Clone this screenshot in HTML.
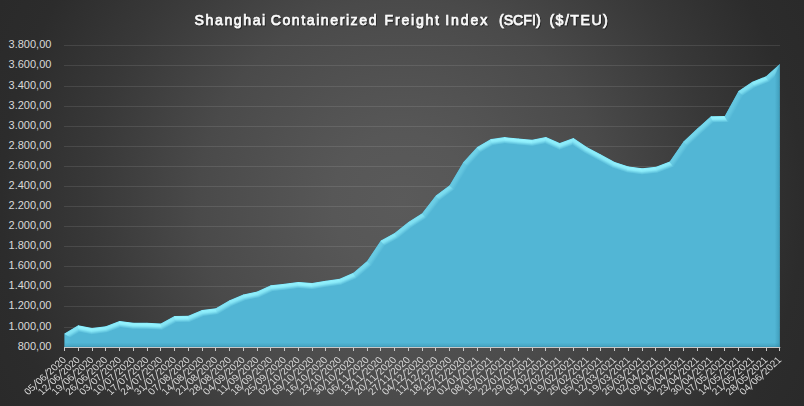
<!DOCTYPE html>
<html><head><meta charset="utf-8"><style>
html,body{margin:0;padding:0;}
body{width:804px;height:406px;overflow:hidden;position:relative;background:#2a2a2a;
font-family:"Liberation Sans", sans-serif;}
.bg{position:absolute;left:0;top:0;width:804px;height:406px;
background:radial-gradient(circle farthest-corner at 50% 50%, #5a5a5a 0%, #575757 15.5%, #525252 27%, #4a4a4a 45%, #383838 69.5%, #2c2c2c 89%, #2a2a2a 100%);}
svg{position:absolute;left:0;top:0;}
.t text{font-weight:normal;stroke:#fafafa;stroke-width:0.7px;fill:#fafafa;font-size:15px;}
.yl text{font-size:11px;fill:#d9d9d9;text-anchor:end;}
.xl text{font-size:9.4px;fill:#d9d9d9;}
.xl line{stroke:#d0d0d0;stroke-width:0.85;}
</style></head><body>
<div class="bg"></div>
<svg width="804" height="406" viewBox="0 0 804 406">
<defs>
<filter id="tsh" x="-5%" y="-30%" width="110%" height="160%"><feDropShadow dx="0.8" dy="1" stdDeviation="0.7" flood-color="#000" flood-opacity="0.55"/></filter>
<clipPath id="ac"><path d="M64.5,347.5 L64.5,333.6 78.26,325.3 92.01,328 105.77,326.2 119.52,320.9 133.28,322.7 147.03,322.85 160.79,323.5 174.55,316 188.3,315.8 202.06,310 215.81,308.2 229.57,300.2 243.32,294.4 257.08,291.5 270.84,285.2 284.59,283.7 298.35,281.9 312.1,283 325.86,280.7 339.62,278.7 353.37,272.8 367.13,261 380.88,240.5 394.64,233 408.39,222 422.15,213.2 435.91,195.5 449.66,185.2 463.42,162.1 477.17,147.1 490.93,139.1 504.68,137.1 518.44,138.5 532.2,139.7 545.95,136.9 559.71,143.1 573.46,138 587.22,147.2 600.98,154.5 614.73,161.9 628.49,166.4 642.24,168.2 656,166.7 669.75,161.5 683.51,141.4 697.27,128.6 711.02,116.2 724.78,116 738.53,91 752.29,81.8 766.04,76.3 779.8,64 L779.8,347.5 Z"/></clipPath>
<linearGradient id="rsh" x1="0" y1="0" x2="1" y2="0"><stop offset="0" stop-color="#2a7f9c" stop-opacity="0"/><stop offset="1" stop-color="#2a7f9c" stop-opacity="0.45"/></linearGradient>
<linearGradient id="bsh" x1="0" y1="0" x2="0" y2="1"><stop offset="0" stop-color="#2a7f9c" stop-opacity="0"/><stop offset="0.7" stop-color="#2a7f9c" stop-opacity="0.28"/><stop offset="1" stop-color="#1f6f8a" stop-opacity="0.6"/></linearGradient>
<linearGradient id="g0" gradientUnits="userSpaceOnUse" x1="64.5" y1="347.5" x2="71" y2="347.5"><stop offset="0" stop-color="#57bad8"/><stop offset="0.25" stop-color="#57bbd8"/><stop offset="0.5" stop-color="#57bad8"/><stop offset="1" stop-color="#52b6d5"/></linearGradient><linearGradient id="g1" gradientUnits="userSpaceOnUse" x1="64.5" y1="333.6" x2="67.86" y2="339.17"><stop offset="0" stop-color="#7fdff1"/><stop offset="0.25" stop-color="#84e4f4"/><stop offset="0.5" stop-color="#7cddf0"/><stop offset="1" stop-color="#52b6d5"/></linearGradient><linearGradient id="g2" gradientUnits="userSpaceOnUse" x1="78.26" y1="325.3" x2="77" y2="331.68"><stop offset="0" stop-color="#8cecfa"/><stop offset="0.25" stop-color="#93f2fe"/><stop offset="0.5" stop-color="#89e9f8"/><stop offset="1" stop-color="#52b6d5"/></linearGradient><linearGradient id="g3" gradientUnits="userSpaceOnUse" x1="92.01" y1="328" x2="92.85" y2="334.45"><stop offset="0" stop-color="#8beaf8"/><stop offset="0.25" stop-color="#91f0fc"/><stop offset="0.5" stop-color="#87e7f6"/><stop offset="1" stop-color="#52b6d5"/></linearGradient><linearGradient id="g4" gradientUnits="userSpaceOnUse" x1="105.77" y1="326.2" x2="108.1" y2="332.27"><stop offset="0" stop-color="#86e7f6"/><stop offset="0.25" stop-color="#8cecfa"/><stop offset="0.5" stop-color="#84e4f4"/><stop offset="1" stop-color="#52b6d5"/></linearGradient><linearGradient id="g5" gradientUnits="userSpaceOnUse" x1="119.52" y1="320.9" x2="118.68" y2="327.35"><stop offset="0" stop-color="#8eedfa"/><stop offset="0.25" stop-color="#94f3fe"/><stop offset="0.5" stop-color="#8aeaf8"/><stop offset="1" stop-color="#52b6d5"/></linearGradient><linearGradient id="g6" gradientUnits="userSpaceOnUse" x1="133.28" y1="322.7" x2="133.21" y2="329.2"><stop offset="0" stop-color="#8dedfa"/><stop offset="0.25" stop-color="#94f3fe"/><stop offset="0.5" stop-color="#8aeaf8"/><stop offset="1" stop-color="#52b6d5"/></linearGradient><linearGradient id="g7" gradientUnits="userSpaceOnUse" x1="147.03" y1="322.85" x2="146.73" y2="329.34"><stop offset="0" stop-color="#8eedfa"/><stop offset="0.25" stop-color="#94f3ff"/><stop offset="0.5" stop-color="#8aeaf8"/><stop offset="1" stop-color="#52b6d5"/></linearGradient><linearGradient id="g8" gradientUnits="userSpaceOnUse" x1="160.79" y1="323.5" x2="163.9" y2="329.21"><stop offset="0" stop-color="#81e2f3"/><stop offset="0.25" stop-color="#87e7f6"/><stop offset="0.5" stop-color="#7fdff1"/><stop offset="1" stop-color="#52b6d5"/></linearGradient><linearGradient id="g9" gradientUnits="userSpaceOnUse" x1="174.55" y1="316" x2="174.64" y2="322.5"><stop offset="0" stop-color="#8decfa"/><stop offset="0.25" stop-color="#93f2fe"/><stop offset="0.5" stop-color="#89e9f8"/><stop offset="1" stop-color="#52b6d5"/></linearGradient><linearGradient id="g10" gradientUnits="userSpaceOnUse" x1="188.3" y1="315.8" x2="190.83" y2="321.79"><stop offset="0" stop-color="#86e6f6"/><stop offset="0.25" stop-color="#8cebf9"/><stop offset="0.5" stop-color="#83e3f4"/><stop offset="1" stop-color="#52b6d5"/></linearGradient><linearGradient id="g11" gradientUnits="userSpaceOnUse" x1="202.06" y1="310" x2="202.9" y2="316.45"><stop offset="0" stop-color="#8beaf8"/><stop offset="0.25" stop-color="#91f0fc"/><stop offset="0.5" stop-color="#87e7f6"/><stop offset="1" stop-color="#52b6d5"/></linearGradient><linearGradient id="g12" gradientUnits="userSpaceOnUse" x1="215.81" y1="308.2" x2="219.08" y2="313.82"><stop offset="0" stop-color="#80e0f2"/><stop offset="0.25" stop-color="#85e5f5"/><stop offset="0.5" stop-color="#7ddef0"/><stop offset="1" stop-color="#52b6d5"/></linearGradient><linearGradient id="g13" gradientUnits="userSpaceOnUse" x1="229.57" y1="300.2" x2="232.09" y2="306.19"><stop offset="0" stop-color="#86e6f6"/><stop offset="0.25" stop-color="#8cebf9"/><stop offset="0.5" stop-color="#83e3f4"/><stop offset="1" stop-color="#52b6d5"/></linearGradient><linearGradient id="g14" gradientUnits="userSpaceOnUse" x1="243.32" y1="294.4" x2="244.67" y2="300.76"><stop offset="0" stop-color="#89e9f8"/><stop offset="0.25" stop-color="#8feffb"/><stop offset="0.5" stop-color="#86e6f6"/><stop offset="1" stop-color="#52b6d5"/></linearGradient><linearGradient id="g15" gradientUnits="userSpaceOnUse" x1="257.08" y1="291.5" x2="259.79" y2="297.41"><stop offset="0" stop-color="#85e6f5"/><stop offset="0.25" stop-color="#8bebf9"/><stop offset="0.5" stop-color="#83e3f3"/><stop offset="1" stop-color="#52b6d5"/></linearGradient><linearGradient id="g16" gradientUnits="userSpaceOnUse" x1="270.84" y1="285.2" x2="271.54" y2="291.66"><stop offset="0" stop-color="#8bebf9"/><stop offset="0.25" stop-color="#91f1fd"/><stop offset="0.5" stop-color="#88e8f7"/><stop offset="1" stop-color="#52b6d5"/></linearGradient><linearGradient id="g17" gradientUnits="userSpaceOnUse" x1="284.59" y1="283.7" x2="285.44" y2="290.15"><stop offset="0" stop-color="#8beaf8"/><stop offset="0.25" stop-color="#91f0fc"/><stop offset="0.5" stop-color="#87e7f6"/><stop offset="1" stop-color="#52b6d5"/></linearGradient><linearGradient id="g18" gradientUnits="userSpaceOnUse" x1="298.35" y1="281.9" x2="297.83" y2="288.38"><stop offset="0" stop-color="#8eeefb"/><stop offset="0.25" stop-color="#95f4ff"/><stop offset="0.5" stop-color="#8bebf9"/><stop offset="1" stop-color="#52b6d5"/></linearGradient><linearGradient id="g19" gradientUnits="userSpaceOnUse" x1="312.1" y1="283" x2="313.18" y2="289.41"><stop offset="0" stop-color="#8aeaf8"/><stop offset="0.25" stop-color="#90f0fc"/><stop offset="0.5" stop-color="#87e7f6"/><stop offset="1" stop-color="#52b6d5"/></linearGradient><linearGradient id="g20" gradientUnits="userSpaceOnUse" x1="325.86" y1="280.7" x2="326.79" y2="287.13"><stop offset="0" stop-color="#8aeaf8"/><stop offset="0.25" stop-color="#91f0fc"/><stop offset="0.5" stop-color="#87e7f6"/><stop offset="1" stop-color="#52b6d5"/></linearGradient><linearGradient id="g21" gradientUnits="userSpaceOnUse" x1="339.62" y1="278.7" x2="342.18" y2="284.67"><stop offset="0" stop-color="#86e6f5"/><stop offset="0.25" stop-color="#8cebf9"/><stop offset="0.5" stop-color="#83e3f4"/><stop offset="1" stop-color="#52b6d5"/></linearGradient><linearGradient id="g22" gradientUnits="userSpaceOnUse" x1="353.37" y1="272.8" x2="357.6" y2="277.73"><stop offset="0" stop-color="#75d6eb"/><stop offset="0.25" stop-color="#79daed"/><stop offset="0.5" stop-color="#73d4ea"/><stop offset="1" stop-color="#52b6d5"/></linearGradient><linearGradient id="g23" gradientUnits="userSpaceOnUse" x1="367.13" y1="261" x2="372.52" y2="264.62"><stop offset="0" stop-color="#66c9e2"/><stop offset="0.25" stop-color="#69cbe3"/><stop offset="0.5" stop-color="#65c8e1"/><stop offset="1" stop-color="#52b6d5"/></linearGradient><linearGradient id="g24" gradientUnits="userSpaceOnUse" x1="380.88" y1="240.5" x2="383.99" y2="246.21"><stop offset="0" stop-color="#81e2f3"/><stop offset="0.25" stop-color="#87e7f6"/><stop offset="0.5" stop-color="#7fdff1"/><stop offset="1" stop-color="#52b6d5"/></linearGradient><linearGradient id="g25" gradientUnits="userSpaceOnUse" x1="394.64" y1="233" x2="398.7" y2="238.08"><stop offset="0" stop-color="#77d8ec"/><stop offset="0.25" stop-color="#7bdcef"/><stop offset="0.5" stop-color="#75d6eb"/><stop offset="1" stop-color="#52b6d5"/></linearGradient><linearGradient id="g26" gradientUnits="userSpaceOnUse" x1="408.39" y1="222" x2="411.9" y2="227.48"><stop offset="0" stop-color="#7ddef0"/><stop offset="0.25" stop-color="#82e2f3"/><stop offset="0.5" stop-color="#7bdcef"/><stop offset="1" stop-color="#52b6d5"/></linearGradient><linearGradient id="g27" gradientUnits="userSpaceOnUse" x1="422.15" y1="213.2" x2="427.28" y2="217.19"><stop offset="0" stop-color="#6acce4"/><stop offset="0.25" stop-color="#6ccfe6"/><stop offset="0.5" stop-color="#69cbe3"/><stop offset="1" stop-color="#52b6d5"/></linearGradient><linearGradient id="g28" gradientUnits="userSpaceOnUse" x1="435.91" y1="195.5" x2="439.8" y2="200.7"><stop offset="0" stop-color="#79daed"/><stop offset="0.25" stop-color="#7ddef0"/><stop offset="0.5" stop-color="#77d8ec"/><stop offset="1" stop-color="#52b6d5"/></linearGradient><linearGradient id="g29" gradientUnits="userSpaceOnUse" x1="449.66" y1="185.2" x2="455.25" y2="188.53"><stop offset="0" stop-color="#64c6e0"/><stop offset="0.25" stop-color="#66c8e1"/><stop offset="0.5" stop-color="#63c5df"/><stop offset="1" stop-color="#52b6d5"/></linearGradient><linearGradient id="g30" gradientUnits="userSpaceOnUse" x1="463.42" y1="162.1" x2="468.21" y2="166.49"><stop offset="0" stop-color="#6ed0e7"/><stop offset="0.25" stop-color="#71d3e8"/><stop offset="0.5" stop-color="#6ccee6"/><stop offset="1" stop-color="#52b6d5"/></linearGradient><linearGradient id="g31" gradientUnits="userSpaceOnUse" x1="477.17" y1="147.1" x2="480.44" y2="152.72"><stop offset="0" stop-color="#80e0f2"/><stop offset="0.25" stop-color="#85e5f5"/><stop offset="0.5" stop-color="#7ddef0"/><stop offset="1" stop-color="#52b6d5"/></linearGradient><linearGradient id="g32" gradientUnits="userSpaceOnUse" x1="490.93" y1="139.1" x2="491.86" y2="145.53"><stop offset="0" stop-color="#8aeaf8"/><stop offset="0.25" stop-color="#91f0fc"/><stop offset="0.5" stop-color="#87e7f6"/><stop offset="1" stop-color="#52b6d5"/></linearGradient><linearGradient id="g33" gradientUnits="userSpaceOnUse" x1="504.68" y1="137.1" x2="504.03" y2="143.57"><stop offset="0" stop-color="#8eeefb"/><stop offset="0.25" stop-color="#95f4ff"/><stop offset="0.5" stop-color="#8beaf9"/><stop offset="1" stop-color="#52b6d5"/></linearGradient><linearGradient id="g34" gradientUnits="userSpaceOnUse" x1="518.44" y1="138.5" x2="517.88" y2="144.98"><stop offset="0" stop-color="#8eeefb"/><stop offset="0.25" stop-color="#95f4ff"/><stop offset="0.5" stop-color="#8bebf9"/><stop offset="1" stop-color="#52b6d5"/></linearGradient><linearGradient id="g35" gradientUnits="userSpaceOnUse" x1="532.2" y1="139.7" x2="533.49" y2="146.07"><stop offset="0" stop-color="#89e9f8"/><stop offset="0.25" stop-color="#8feffc"/><stop offset="0.5" stop-color="#86e6f6"/><stop offset="1" stop-color="#52b6d5"/></linearGradient><linearGradient id="g36" gradientUnits="userSpaceOnUse" x1="545.95" y1="136.9" x2="543.28" y2="142.83"><stop offset="0" stop-color="#88e8f7"/><stop offset="0.25" stop-color="#8feefb"/><stop offset="0.5" stop-color="#85e6f5"/><stop offset="1" stop-color="#52b6d5"/></linearGradient><linearGradient id="g37" gradientUnits="userSpaceOnUse" x1="559.71" y1="143.1" x2="561.97" y2="149.19"><stop offset="0" stop-color="#87e7f6"/><stop offset="0.25" stop-color="#8decfa"/><stop offset="0.5" stop-color="#84e4f4"/><stop offset="1" stop-color="#52b6d5"/></linearGradient><linearGradient id="g38" gradientUnits="userSpaceOnUse" x1="573.46" y1="138" x2="569.85" y2="143.4"><stop offset="0" stop-color="#86e6f5"/><stop offset="0.25" stop-color="#8bebf9"/><stop offset="0.5" stop-color="#83e3f4"/><stop offset="1" stop-color="#52b6d5"/></linearGradient><linearGradient id="g39" gradientUnits="userSpaceOnUse" x1="587.22" y1="147.2" x2="584.17" y2="152.94"><stop offset="0" stop-color="#87e7f6"/><stop offset="0.25" stop-color="#8dedfa"/><stop offset="0.5" stop-color="#84e5f5"/><stop offset="1" stop-color="#52b6d5"/></linearGradient><linearGradient id="g40" gradientUnits="userSpaceOnUse" x1="600.98" y1="154.5" x2="597.9" y2="160.22"><stop offset="0" stop-color="#87e7f6"/><stop offset="0.25" stop-color="#8dedfa"/><stop offset="0.5" stop-color="#84e5f5"/><stop offset="1" stop-color="#52b6d5"/></linearGradient><linearGradient id="g41" gradientUnits="userSpaceOnUse" x1="614.73" y1="161.9" x2="612.71" y2="168.08"><stop offset="0" stop-color="#8aeaf8"/><stop offset="0.25" stop-color="#91f0fc"/><stop offset="0.5" stop-color="#87e7f6"/><stop offset="1" stop-color="#52b6d5"/></linearGradient><linearGradient id="g42" gradientUnits="userSpaceOnUse" x1="628.49" y1="166.4" x2="627.64" y2="172.85"><stop offset="0" stop-color="#8eedfa"/><stop offset="0.25" stop-color="#94f3fe"/><stop offset="0.5" stop-color="#8aeaf8"/><stop offset="1" stop-color="#52b6d5"/></linearGradient><linearGradient id="g43" gradientUnits="userSpaceOnUse" x1="642.24" y1="168.2" x2="642.95" y2="174.66"><stop offset="0" stop-color="#8bebf9"/><stop offset="0.25" stop-color="#91f1fd"/><stop offset="0.5" stop-color="#88e8f7"/><stop offset="1" stop-color="#52b6d5"/></linearGradient><linearGradient id="g44" gradientUnits="userSpaceOnUse" x1="656" y1="166.7" x2="658.3" y2="172.78"><stop offset="0" stop-color="#87e7f6"/><stop offset="0.25" stop-color="#8cecfa"/><stop offset="0.5" stop-color="#84e4f4"/><stop offset="1" stop-color="#52b6d5"/></linearGradient><linearGradient id="g45" gradientUnits="userSpaceOnUse" x1="669.75" y1="161.5" x2="675.12" y2="165.17"><stop offset="0" stop-color="#67c9e2"/><stop offset="0.25" stop-color="#69cbe3"/><stop offset="0.5" stop-color="#66c8e1"/><stop offset="1" stop-color="#52b6d5"/></linearGradient><linearGradient id="g46" gradientUnits="userSpaceOnUse" x1="683.51" y1="141.4" x2="687.94" y2="146.16"><stop offset="0" stop-color="#72d4e9"/><stop offset="0.25" stop-color="#76d7ec"/><stop offset="0.5" stop-color="#71d2e8"/><stop offset="1" stop-color="#52b6d5"/></linearGradient><linearGradient id="g47" gradientUnits="userSpaceOnUse" x1="697.27" y1="128.6" x2="701.62" y2="133.43"><stop offset="0" stop-color="#73d5ea"/><stop offset="0.25" stop-color="#77d8ec"/><stop offset="0.5" stop-color="#71d3e9"/><stop offset="1" stop-color="#52b6d5"/></linearGradient><linearGradient id="g48" gradientUnits="userSpaceOnUse" x1="711.02" y1="116.2" x2="711.12" y2="122.7"><stop offset="0" stop-color="#8decfa"/><stop offset="0.25" stop-color="#93f2fe"/><stop offset="0.5" stop-color="#89e9f8"/><stop offset="1" stop-color="#52b6d5"/></linearGradient><linearGradient id="g49" gradientUnits="userSpaceOnUse" x1="724.78" y1="116" x2="730.47" y2="119.13"><stop offset="0" stop-color="#62c5df"/><stop offset="0.25" stop-color="#64c7e0"/><stop offset="0.5" stop-color="#61c4df"/><stop offset="1" stop-color="#52b6d5"/></linearGradient><linearGradient id="g50" gradientUnits="userSpaceOnUse" x1="738.53" y1="91" x2="742.15" y2="96.4"><stop offset="0" stop-color="#7cddef"/><stop offset="0.25" stop-color="#81e1f2"/><stop offset="0.5" stop-color="#7adbee"/><stop offset="1" stop-color="#52b6d5"/></linearGradient><linearGradient id="g51" gradientUnits="userSpaceOnUse" x1="752.29" y1="81.8" x2="754.7" y2="87.84"><stop offset="0" stop-color="#86e6f6"/><stop offset="0.25" stop-color="#8cecf9"/><stop offset="0.5" stop-color="#83e4f4"/><stop offset="1" stop-color="#52b6d5"/></linearGradient><linearGradient id="g52" gradientUnits="userSpaceOnUse" x1="766.04" y1="76.3" x2="770.38" y2="81.15"><stop offset="0" stop-color="#74d5ea"/><stop offset="0.25" stop-color="#77d8ec"/><stop offset="0.5" stop-color="#72d3e9"/><stop offset="1" stop-color="#52b6d5"/></linearGradient>
</defs>
<g stroke="rgba(255,255,255,0.1)" stroke-width="1"><line x1="64" y1="45.5" x2="780" y2="45.5"/><line x1="64" y1="65.5" x2="780" y2="65.5"/><line x1="64" y1="86.5" x2="780" y2="86.5"/><line x1="64" y1="106.5" x2="780" y2="106.5"/><line x1="64" y1="126.5" x2="780" y2="126.5"/><line x1="64" y1="146.5" x2="780" y2="146.5"/><line x1="64" y1="166.5" x2="780" y2="166.5"/><line x1="64" y1="186.5" x2="780" y2="186.5"/><line x1="64" y1="206.5" x2="780" y2="206.5"/><line x1="64" y1="226.5" x2="780" y2="226.5"/><line x1="64" y1="246.5" x2="780" y2="246.5"/><line x1="64" y1="266.5" x2="780" y2="266.5"/><line x1="64" y1="286.5" x2="780" y2="286.5"/><line x1="64" y1="306.5" x2="780" y2="306.5"/><line x1="64" y1="327.5" x2="780" y2="327.5"/></g>
<path d="M64.5,347.5 L64.5,333.6 78.26,325.3 92.01,328 105.77,326.2 119.52,320.9 133.28,322.7 147.03,322.85 160.79,323.5 174.55,316 188.3,315.8 202.06,310 215.81,308.2 229.57,300.2 243.32,294.4 257.08,291.5 270.84,285.2 284.59,283.7 298.35,281.9 312.1,283 325.86,280.7 339.62,278.7 353.37,272.8 367.13,261 380.88,240.5 394.64,233 408.39,222 422.15,213.2 435.91,195.5 449.66,185.2 463.42,162.1 477.17,147.1 490.93,139.1 504.68,137.1 518.44,138.5 532.2,139.7 545.95,136.9 559.71,143.1 573.46,138 587.22,147.2 600.98,154.5 614.73,161.9 628.49,166.4 642.24,168.2 656,166.7 669.75,161.5 683.51,141.4 697.27,128.6 711.02,116.2 724.78,116 738.53,91 752.29,81.8 766.04,76.3 779.8,64 L779.8,347.5 Z" fill="#52b6d5"/>
<g clip-path="url(#ac)">
<path d="M64.5,348 L64.5,333.1 L71,336.77 L71,348Z" fill="url(#g0)"/><path d="M64.07,333.86 L78.68,325.04 L79.89,331.9 L70.57,337.53Z" fill="url(#g1)"/><path d="M77.77,325.2 L92.5,328.1 L92.29,334.68 L78.98,332.07Z" fill="url(#g2)"/><path d="M91.52,328.06 L106.26,326.14 L107.88,332.48 L91.31,334.65Z" fill="url(#g3)"/><path d="M105.3,326.38 L119.99,320.72 L120.78,327.38 L106.91,332.72Z" fill="url(#g4)"/><path d="M119.03,320.84 L133.77,322.76 L133.32,329.26 L119.82,327.49Z" fill="url(#g5)"/><path d="M132.78,322.69 L147.53,322.86 L147.35,329.35 L132.32,329.19Z" fill="url(#g6)"/><path d="M146.54,322.83 L161.29,323.52 L162.8,330.1 L146.35,329.32Z" fill="url(#g7)"/><path d="M160.35,323.74 L174.99,315.76 L176.69,322.24 L161.86,330.32Z" fill="url(#g8)"/><path d="M174.05,316.01 L188.8,315.79 L190.16,322.27 L175.75,322.48Z" fill="url(#g9)"/><path d="M187.84,315.99 L202.52,309.81 L204.23,316.14 L189.2,322.48Z" fill="url(#g10)"/><path d="M201.56,310.06 L216.31,308.14 L218.45,314.41 L203.28,316.4Z" fill="url(#g11)"/><path d="M215.38,308.45 L230,299.95 L232.91,305.78 L217.52,314.73Z" fill="url(#g12)"/><path d="M229.11,300.39 L243.79,294.21 L245.74,300.44 L232.02,306.22Z" fill="url(#g13)"/><path d="M242.84,294.5 L257.57,291.4 L259.62,297.61 L244.79,300.73Z" fill="url(#g14)"/><path d="M256.63,291.71 L271.29,284.99 L273.04,291.34 L258.67,297.92Z" fill="url(#g15)"/><path d="M270.34,285.25 L285.09,283.65 L285.86,290.1 L272.09,291.6Z" fill="url(#g16)"/><path d="M284.1,283.76 L298.84,281.84 L299.01,288.37 L284.87,290.22Z" fill="url(#g17)"/><path d="M297.85,281.86 L312.6,283.04 L312.88,289.58 L298.01,288.39Z" fill="url(#g18)"/><path d="M311.61,283.08 L326.35,280.62 L327.36,287.04 L311.89,289.63Z" fill="url(#g19)"/><path d="M325.36,280.77 L340.11,278.63 L341.89,284.94 L326.37,287.19Z" fill="url(#g20)"/><path d="M339.16,278.9 L353.83,272.6 L357.31,278.18 L340.93,285.21Z" fill="url(#g21)"/><path d="M352.99,273.13 L367.51,260.67 L372.41,265.03 L356.47,278.71Z" fill="url(#g22)"/><path d="M366.85,261.42 L381.16,240.08 L385.67,245.03 L371.75,265.77Z" fill="url(#g23)"/><path d="M380.44,240.74 L395.08,232.76 L398.69,238.19 L384.95,245.68Z" fill="url(#g24)"/><path d="M394.25,233.31 L408.78,221.69 L412.58,226.98 L397.86,238.75Z" fill="url(#g25)"/><path d="M407.97,222.27 L422.57,212.93 L427.02,217.8 L411.76,227.56Z" fill="url(#g26)"/><path d="M421.84,213.59 L436.21,195.11 L440.81,199.78 L426.29,218.47Z" fill="url(#g27)"/><path d="M435.51,195.8 L450.06,184.9 L454.99,189.33 L440.1,200.48Z" fill="url(#g28)"/><path d="M449.41,185.63 L463.67,161.67 L468.92,165.57 L454.33,190.06Z" fill="url(#g29)"/><path d="M463.08,162.47 L477.51,146.73 L481.63,151.85 L468.32,166.37Z" fill="url(#g30)"/><path d="M476.74,147.35 L491.36,138.85 L493.54,145.1 L480.86,152.47Z" fill="url(#g31)"/><path d="M490.43,139.17 L505.18,137.03 L505.32,143.58 L492.61,145.42Z" fill="url(#g32)"/><path d="M504.19,137.05 L518.94,138.55 L518.33,145.02 L504.33,143.6Z" fill="url(#g33)"/><path d="M517.94,138.46 L532.69,139.74 L533.07,146.3 L517.33,144.93Z" fill="url(#g34)"/><path d="M531.71,139.8 L546.44,136.8 L545.68,143.59 L532.08,146.36Z" fill="url(#g35)"/><path d="M545.5,136.69 L560.16,143.31 L559.92,150.33 L544.74,143.48Z" fill="url(#g36)"/><path d="M559.24,143.27 L573.93,137.83 L573.08,145.08 L559,150.3Z" fill="url(#g37)"/><path d="M573.05,137.72 L587.63,147.48 L584.3,153.06 L572.19,144.97Z" fill="url(#g38)"/><path d="M586.78,146.97 L601.42,154.73 L598.35,160.47 L583.44,152.55Z" fill="url(#g39)"/><path d="M600.53,154.26 L615.17,162.14 L612.6,168.13 L597.47,160Z" fill="url(#g40)"/><path d="M614.26,161.74 L628.96,166.56 L627.52,172.92 L611.69,167.74Z" fill="url(#g41)"/><path d="M627.99,166.34 L642.74,168.26 L642.67,174.81 L626.55,172.7Z" fill="url(#g42)"/><path d="M641.75,168.25 L656.5,166.65 L658.02,173.02 L641.67,174.8Z" fill="url(#g43)"/><path d="M655.53,166.88 L670.22,161.32 L674.43,166.68 L657.06,173.25Z" fill="url(#g44)"/><path d="M669.47,161.91 L683.79,140.99 L688.75,145.25 L673.68,167.27Z" fill="url(#g45)"/><path d="M683.14,141.74 L697.63,128.26 L702.02,133.05 L688.1,146.01Z" fill="url(#g46)"/><path d="M696.89,128.93 L711.39,115.87 L713.93,122.33 L701.28,133.73Z" fill="url(#g47)"/><path d="M710.52,116.21 L725.28,115.99 L729.15,122.44 L713.06,122.67Z" fill="url(#g48)"/><path d="M724.54,116.44 L738.77,90.56 L743.7,95.08 L728.41,122.88Z" fill="url(#g49)"/><path d="M738.12,91.28 L752.7,81.52 L755.75,87.3 L743.05,95.8Z" fill="url(#g50)"/><path d="M751.82,81.99 L766.51,76.11 L769.99,81.72 L754.87,87.77Z" fill="url(#g51)"/><path d="M765.67,76.63 L780.17,63.67 L773.67,78.2 L769.15,82.24Z" fill="url(#g52)"/>
<rect x="774.8" y="40" width="5" height="307.5" fill="url(#rsh)"/>
<rect x="64.5" y="342.5" width="715.3" height="5" fill="url(#bsh)"/>
</g>
<g stroke="#c8c8c8" stroke-width="1"><line x1="64.5" y1="347.5" x2="64.5" y2="351"/><line x1="78.5" y1="347.5" x2="78.5" y2="351"/><line x1="92.5" y1="347.5" x2="92.5" y2="351"/><line x1="105.5" y1="347.5" x2="105.5" y2="351"/><line x1="119.5" y1="347.5" x2="119.5" y2="351"/><line x1="133.5" y1="347.5" x2="133.5" y2="351"/><line x1="147.5" y1="347.5" x2="147.5" y2="351"/><line x1="160.5" y1="347.5" x2="160.5" y2="351"/><line x1="174.5" y1="347.5" x2="174.5" y2="351"/><line x1="188.5" y1="347.5" x2="188.5" y2="351"/><line x1="202.5" y1="347.5" x2="202.5" y2="351"/><line x1="215.5" y1="347.5" x2="215.5" y2="351"/><line x1="229.5" y1="347.5" x2="229.5" y2="351"/><line x1="243.5" y1="347.5" x2="243.5" y2="351"/><line x1="257.5" y1="347.5" x2="257.5" y2="351"/><line x1="270.5" y1="347.5" x2="270.5" y2="351"/><line x1="284.5" y1="347.5" x2="284.5" y2="351"/><line x1="298.5" y1="347.5" x2="298.5" y2="351"/><line x1="312.5" y1="347.5" x2="312.5" y2="351"/><line x1="325.5" y1="347.5" x2="325.5" y2="351"/><line x1="339.5" y1="347.5" x2="339.5" y2="351"/><line x1="353.5" y1="347.5" x2="353.5" y2="351"/><line x1="367.5" y1="347.5" x2="367.5" y2="351"/><line x1="380.5" y1="347.5" x2="380.5" y2="351"/><line x1="394.5" y1="347.5" x2="394.5" y2="351"/><line x1="408.5" y1="347.5" x2="408.5" y2="351"/><line x1="422.5" y1="347.5" x2="422.5" y2="351"/><line x1="435.5" y1="347.5" x2="435.5" y2="351"/><line x1="449.5" y1="347.5" x2="449.5" y2="351"/><line x1="463.5" y1="347.5" x2="463.5" y2="351"/><line x1="477.5" y1="347.5" x2="477.5" y2="351"/><line x1="490.5" y1="347.5" x2="490.5" y2="351"/><line x1="504.5" y1="347.5" x2="504.5" y2="351"/><line x1="518.5" y1="347.5" x2="518.5" y2="351"/><line x1="532.5" y1="347.5" x2="532.5" y2="351"/><line x1="545.5" y1="347.5" x2="545.5" y2="351"/><line x1="559.5" y1="347.5" x2="559.5" y2="351"/><line x1="573.5" y1="347.5" x2="573.5" y2="351"/><line x1="587.5" y1="347.5" x2="587.5" y2="351"/><line x1="600.5" y1="347.5" x2="600.5" y2="351"/><line x1="614.5" y1="347.5" x2="614.5" y2="351"/><line x1="628.5" y1="347.5" x2="628.5" y2="351"/><line x1="642.5" y1="347.5" x2="642.5" y2="351"/><line x1="655.5" y1="347.5" x2="655.5" y2="351"/><line x1="669.5" y1="347.5" x2="669.5" y2="351"/><line x1="683.5" y1="347.5" x2="683.5" y2="351"/><line x1="697.5" y1="347.5" x2="697.5" y2="351"/><line x1="711.5" y1="347.5" x2="711.5" y2="351"/><line x1="724.5" y1="347.5" x2="724.5" y2="351"/><line x1="738.5" y1="347.5" x2="738.5" y2="351"/><line x1="752.5" y1="347.5" x2="752.5" y2="351"/><line x1="766.5" y1="347.5" x2="766.5" y2="351"/><line x1="779.5" y1="347.5" x2="779.5" y2="351"/><line x1="64" y1="347.5" x2="780.3" y2="347.5"/></g>
<g class="yl"><text x="51.4" y="48.4">3.800,00</text><text x="51.4" y="68.4">3.600,00</text><text x="51.4" y="89.4">3.400,00</text><text x="51.4" y="109.4">3.200,00</text><text x="51.4" y="129.4">3.000,00</text><text x="51.4" y="149.4">2.800,00</text><text x="51.4" y="169.4">2.600,00</text><text x="51.4" y="189.4">2.400,00</text><text x="51.4" y="209.4">2.200,00</text><text x="51.4" y="229.4">2.000,00</text><text x="51.4" y="249.4">1.800,00</text><text x="51.4" y="269.4">1.600,00</text><text x="51.4" y="289.4">1.400,00</text><text x="51.4" y="309.4">1.200,00</text><text x="51.4" y="330.4">1.000,00</text><text x="51.4" y="350.4">800,00</text></g>
</svg><svg class="xls" width="804" height="406" viewBox="0 0 804 406" style="will-change:transform"><g class="xl"><g transform="translate(66.75,360.55) scale(1.1,1) rotate(-45)"><text x="-20.75 -15.55 -10.35 -5.15">2020</text><text x="-35.1 -29.9">06</text><text x="-49.45 -44.25">05</text><line x1="-25.45" y1="1.3" x2="-20.05" y2="-7.2"/><line x1="-39.8" y1="1.3" x2="-34.4" y2="-7.2"/></g><g transform="translate(80.51,360.55) scale(1.1,1) rotate(-45)"><text x="-20.75 -15.55 -10.35 -5.15">2020</text><text x="-35.1 -29.9">06</text><text x="-49.45 -44.25">12</text><line x1="-25.45" y1="1.3" x2="-20.05" y2="-7.2"/><line x1="-39.8" y1="1.3" x2="-34.4" y2="-7.2"/></g><g transform="translate(94.26,360.55) scale(1.1,1) rotate(-45)"><text x="-20.75 -15.55 -10.35 -5.15">2020</text><text x="-35.1 -29.9">06</text><text x="-49.45 -44.25">19</text><line x1="-25.45" y1="1.3" x2="-20.05" y2="-7.2"/><line x1="-39.8" y1="1.3" x2="-34.4" y2="-7.2"/></g><g transform="translate(108.02,360.55) scale(1.1,1) rotate(-45)"><text x="-20.75 -15.55 -10.35 -5.15">2020</text><text x="-35.1 -29.9">06</text><text x="-49.45 -44.25">26</text><line x1="-25.45" y1="1.3" x2="-20.05" y2="-7.2"/><line x1="-39.8" y1="1.3" x2="-34.4" y2="-7.2"/></g><g transform="translate(121.77,360.55) scale(1.1,1) rotate(-45)"><text x="-20.75 -15.55 -10.35 -5.15">2020</text><text x="-35.1 -29.9">07</text><text x="-49.45 -44.25">03</text><line x1="-25.45" y1="1.3" x2="-20.05" y2="-7.2"/><line x1="-39.8" y1="1.3" x2="-34.4" y2="-7.2"/></g><g transform="translate(135.53,360.55) scale(1.1,1) rotate(-45)"><text x="-20.75 -15.55 -10.35 -5.15">2020</text><text x="-35.1 -29.9">07</text><text x="-49.45 -44.25">10</text><line x1="-25.45" y1="1.3" x2="-20.05" y2="-7.2"/><line x1="-39.8" y1="1.3" x2="-34.4" y2="-7.2"/></g><g transform="translate(149.28,360.55) scale(1.1,1) rotate(-45)"><text x="-20.75 -15.55 -10.35 -5.15">2020</text><text x="-35.1 -29.9">07</text><text x="-49.45 -44.25">17</text><line x1="-25.45" y1="1.3" x2="-20.05" y2="-7.2"/><line x1="-39.8" y1="1.3" x2="-34.4" y2="-7.2"/></g><g transform="translate(163.04,360.55) scale(1.1,1) rotate(-45)"><text x="-20.75 -15.55 -10.35 -5.15">2020</text><text x="-35.1 -29.9">07</text><text x="-49.45 -44.25">24</text><line x1="-25.45" y1="1.3" x2="-20.05" y2="-7.2"/><line x1="-39.8" y1="1.3" x2="-34.4" y2="-7.2"/></g><g transform="translate(176.8,360.55) scale(1.1,1) rotate(-45)"><text x="-20.75 -15.55 -10.35 -5.15">2020</text><text x="-35.1 -29.9">07</text><text x="-49.45 -44.25">31</text><line x1="-25.45" y1="1.3" x2="-20.05" y2="-7.2"/><line x1="-39.8" y1="1.3" x2="-34.4" y2="-7.2"/></g><g transform="translate(190.55,360.55) scale(1.1,1) rotate(-45)"><text x="-20.75 -15.55 -10.35 -5.15">2020</text><text x="-35.1 -29.9">08</text><text x="-49.45 -44.25">07</text><line x1="-25.45" y1="1.3" x2="-20.05" y2="-7.2"/><line x1="-39.8" y1="1.3" x2="-34.4" y2="-7.2"/></g><g transform="translate(204.31,360.55) scale(1.1,1) rotate(-45)"><text x="-20.75 -15.55 -10.35 -5.15">2020</text><text x="-35.1 -29.9">08</text><text x="-49.45 -44.25">14</text><line x1="-25.45" y1="1.3" x2="-20.05" y2="-7.2"/><line x1="-39.8" y1="1.3" x2="-34.4" y2="-7.2"/></g><g transform="translate(218.06,360.55) scale(1.1,1) rotate(-45)"><text x="-20.75 -15.55 -10.35 -5.15">2020</text><text x="-35.1 -29.9">08</text><text x="-49.45 -44.25">21</text><line x1="-25.45" y1="1.3" x2="-20.05" y2="-7.2"/><line x1="-39.8" y1="1.3" x2="-34.4" y2="-7.2"/></g><g transform="translate(231.82,360.55) scale(1.1,1) rotate(-45)"><text x="-20.75 -15.55 -10.35 -5.15">2020</text><text x="-35.1 -29.9">08</text><text x="-49.45 -44.25">28</text><line x1="-25.45" y1="1.3" x2="-20.05" y2="-7.2"/><line x1="-39.8" y1="1.3" x2="-34.4" y2="-7.2"/></g><g transform="translate(245.57,360.55) scale(1.1,1) rotate(-45)"><text x="-20.75 -15.55 -10.35 -5.15">2020</text><text x="-35.1 -29.9">09</text><text x="-49.45 -44.25">04</text><line x1="-25.45" y1="1.3" x2="-20.05" y2="-7.2"/><line x1="-39.8" y1="1.3" x2="-34.4" y2="-7.2"/></g><g transform="translate(259.33,360.55) scale(1.1,1) rotate(-45)"><text x="-20.75 -15.55 -10.35 -5.15">2020</text><text x="-35.1 -29.9">09</text><text x="-49.45 -44.25">11</text><line x1="-25.45" y1="1.3" x2="-20.05" y2="-7.2"/><line x1="-39.8" y1="1.3" x2="-34.4" y2="-7.2"/></g><g transform="translate(273.09,360.55) scale(1.1,1) rotate(-45)"><text x="-20.75 -15.55 -10.35 -5.15">2020</text><text x="-35.1 -29.9">09</text><text x="-49.45 -44.25">18</text><line x1="-25.45" y1="1.3" x2="-20.05" y2="-7.2"/><line x1="-39.8" y1="1.3" x2="-34.4" y2="-7.2"/></g><g transform="translate(286.84,360.55) scale(1.1,1) rotate(-45)"><text x="-20.75 -15.55 -10.35 -5.15">2020</text><text x="-35.1 -29.9">09</text><text x="-49.45 -44.25">25</text><line x1="-25.45" y1="1.3" x2="-20.05" y2="-7.2"/><line x1="-39.8" y1="1.3" x2="-34.4" y2="-7.2"/></g><g transform="translate(300.6,360.55) scale(1.1,1) rotate(-45)"><text x="-20.75 -15.55 -10.35 -5.15">2020</text><text x="-35.1 -29.9">10</text><text x="-49.45 -44.25">02</text><line x1="-25.45" y1="1.3" x2="-20.05" y2="-7.2"/><line x1="-39.8" y1="1.3" x2="-34.4" y2="-7.2"/></g><g transform="translate(314.35,360.55) scale(1.1,1) rotate(-45)"><text x="-20.75 -15.55 -10.35 -5.15">2020</text><text x="-35.1 -29.9">10</text><text x="-49.45 -44.25">09</text><line x1="-25.45" y1="1.3" x2="-20.05" y2="-7.2"/><line x1="-39.8" y1="1.3" x2="-34.4" y2="-7.2"/></g><g transform="translate(328.11,360.55) scale(1.1,1) rotate(-45)"><text x="-20.75 -15.55 -10.35 -5.15">2020</text><text x="-35.1 -29.9">10</text><text x="-49.45 -44.25">16</text><line x1="-25.45" y1="1.3" x2="-20.05" y2="-7.2"/><line x1="-39.8" y1="1.3" x2="-34.4" y2="-7.2"/></g><g transform="translate(341.87,360.55) scale(1.1,1) rotate(-45)"><text x="-20.75 -15.55 -10.35 -5.15">2020</text><text x="-35.1 -29.9">10</text><text x="-49.45 -44.25">23</text><line x1="-25.45" y1="1.3" x2="-20.05" y2="-7.2"/><line x1="-39.8" y1="1.3" x2="-34.4" y2="-7.2"/></g><g transform="translate(355.62,360.55) scale(1.1,1) rotate(-45)"><text x="-20.75 -15.55 -10.35 -5.15">2020</text><text x="-35.1 -29.9">10</text><text x="-49.45 -44.25">30</text><line x1="-25.45" y1="1.3" x2="-20.05" y2="-7.2"/><line x1="-39.8" y1="1.3" x2="-34.4" y2="-7.2"/></g><g transform="translate(369.38,360.55) scale(1.1,1) rotate(-45)"><text x="-20.75 -15.55 -10.35 -5.15">2020</text><text x="-35.1 -29.9">11</text><text x="-49.45 -44.25">06</text><line x1="-25.45" y1="1.3" x2="-20.05" y2="-7.2"/><line x1="-39.8" y1="1.3" x2="-34.4" y2="-7.2"/></g><g transform="translate(383.13,360.55) scale(1.1,1) rotate(-45)"><text x="-20.75 -15.55 -10.35 -5.15">2020</text><text x="-35.1 -29.9">11</text><text x="-49.45 -44.25">13</text><line x1="-25.45" y1="1.3" x2="-20.05" y2="-7.2"/><line x1="-39.8" y1="1.3" x2="-34.4" y2="-7.2"/></g><g transform="translate(396.89,360.55) scale(1.1,1) rotate(-45)"><text x="-20.75 -15.55 -10.35 -5.15">2020</text><text x="-35.1 -29.9">11</text><text x="-49.45 -44.25">20</text><line x1="-25.45" y1="1.3" x2="-20.05" y2="-7.2"/><line x1="-39.8" y1="1.3" x2="-34.4" y2="-7.2"/></g><g transform="translate(410.64,360.55) scale(1.1,1) rotate(-45)"><text x="-20.75 -15.55 -10.35 -5.15">2020</text><text x="-35.1 -29.9">11</text><text x="-49.45 -44.25">27</text><line x1="-25.45" y1="1.3" x2="-20.05" y2="-7.2"/><line x1="-39.8" y1="1.3" x2="-34.4" y2="-7.2"/></g><g transform="translate(424.4,360.55) scale(1.1,1) rotate(-45)"><text x="-20.75 -15.55 -10.35 -5.15">2020</text><text x="-35.1 -29.9">12</text><text x="-49.45 -44.25">04</text><line x1="-25.45" y1="1.3" x2="-20.05" y2="-7.2"/><line x1="-39.8" y1="1.3" x2="-34.4" y2="-7.2"/></g><g transform="translate(438.16,360.55) scale(1.1,1) rotate(-45)"><text x="-20.75 -15.55 -10.35 -5.15">2020</text><text x="-35.1 -29.9">12</text><text x="-49.45 -44.25">11</text><line x1="-25.45" y1="1.3" x2="-20.05" y2="-7.2"/><line x1="-39.8" y1="1.3" x2="-34.4" y2="-7.2"/></g><g transform="translate(451.91,360.55) scale(1.1,1) rotate(-45)"><text x="-20.75 -15.55 -10.35 -5.15">2020</text><text x="-35.1 -29.9">12</text><text x="-49.45 -44.25">18</text><line x1="-25.45" y1="1.3" x2="-20.05" y2="-7.2"/><line x1="-39.8" y1="1.3" x2="-34.4" y2="-7.2"/></g><g transform="translate(465.67,360.55) scale(1.1,1) rotate(-45)"><text x="-20.75 -15.55 -10.35 -5.15">2020</text><text x="-35.1 -29.9">12</text><text x="-49.45 -44.25">25</text><line x1="-25.45" y1="1.3" x2="-20.05" y2="-7.2"/><line x1="-39.8" y1="1.3" x2="-34.4" y2="-7.2"/></g><g transform="translate(479.42,360.55) scale(1.1,1) rotate(-45)"><text x="-20.75 -15.55 -10.35 -5.15">2021</text><text x="-35.1 -29.9">01</text><text x="-49.45 -44.25">01</text><line x1="-25.45" y1="1.3" x2="-20.05" y2="-7.2"/><line x1="-39.8" y1="1.3" x2="-34.4" y2="-7.2"/></g><g transform="translate(493.18,360.55) scale(1.1,1) rotate(-45)"><text x="-20.75 -15.55 -10.35 -5.15">2021</text><text x="-35.1 -29.9">01</text><text x="-49.45 -44.25">08</text><line x1="-25.45" y1="1.3" x2="-20.05" y2="-7.2"/><line x1="-39.8" y1="1.3" x2="-34.4" y2="-7.2"/></g><g transform="translate(506.93,360.55) scale(1.1,1) rotate(-45)"><text x="-20.75 -15.55 -10.35 -5.15">2021</text><text x="-35.1 -29.9">01</text><text x="-49.45 -44.25">15</text><line x1="-25.45" y1="1.3" x2="-20.05" y2="-7.2"/><line x1="-39.8" y1="1.3" x2="-34.4" y2="-7.2"/></g><g transform="translate(520.69,360.55) scale(1.1,1) rotate(-45)"><text x="-20.75 -15.55 -10.35 -5.15">2021</text><text x="-35.1 -29.9">01</text><text x="-49.45 -44.25">22</text><line x1="-25.45" y1="1.3" x2="-20.05" y2="-7.2"/><line x1="-39.8" y1="1.3" x2="-34.4" y2="-7.2"/></g><g transform="translate(534.45,360.55) scale(1.1,1) rotate(-45)"><text x="-20.75 -15.55 -10.35 -5.15">2021</text><text x="-35.1 -29.9">01</text><text x="-49.45 -44.25">29</text><line x1="-25.45" y1="1.3" x2="-20.05" y2="-7.2"/><line x1="-39.8" y1="1.3" x2="-34.4" y2="-7.2"/></g><g transform="translate(548.2,360.55) scale(1.1,1) rotate(-45)"><text x="-20.75 -15.55 -10.35 -5.15">2021</text><text x="-35.1 -29.9">02</text><text x="-49.45 -44.25">05</text><line x1="-25.45" y1="1.3" x2="-20.05" y2="-7.2"/><line x1="-39.8" y1="1.3" x2="-34.4" y2="-7.2"/></g><g transform="translate(561.96,360.55) scale(1.1,1) rotate(-45)"><text x="-20.75 -15.55 -10.35 -5.15">2021</text><text x="-35.1 -29.9">02</text><text x="-49.45 -44.25">12</text><line x1="-25.45" y1="1.3" x2="-20.05" y2="-7.2"/><line x1="-39.8" y1="1.3" x2="-34.4" y2="-7.2"/></g><g transform="translate(575.71,360.55) scale(1.1,1) rotate(-45)"><text x="-20.75 -15.55 -10.35 -5.15">2021</text><text x="-35.1 -29.9">02</text><text x="-49.45 -44.25">19</text><line x1="-25.45" y1="1.3" x2="-20.05" y2="-7.2"/><line x1="-39.8" y1="1.3" x2="-34.4" y2="-7.2"/></g><g transform="translate(589.47,360.55) scale(1.1,1) rotate(-45)"><text x="-20.75 -15.55 -10.35 -5.15">2021</text><text x="-35.1 -29.9">02</text><text x="-49.45 -44.25">26</text><line x1="-25.45" y1="1.3" x2="-20.05" y2="-7.2"/><line x1="-39.8" y1="1.3" x2="-34.4" y2="-7.2"/></g><g transform="translate(603.23,360.55) scale(1.1,1) rotate(-45)"><text x="-20.75 -15.55 -10.35 -5.15">2021</text><text x="-35.1 -29.9">03</text><text x="-49.45 -44.25">05</text><line x1="-25.45" y1="1.3" x2="-20.05" y2="-7.2"/><line x1="-39.8" y1="1.3" x2="-34.4" y2="-7.2"/></g><g transform="translate(616.98,360.55) scale(1.1,1) rotate(-45)"><text x="-20.75 -15.55 -10.35 -5.15">2021</text><text x="-35.1 -29.9">03</text><text x="-49.45 -44.25">12</text><line x1="-25.45" y1="1.3" x2="-20.05" y2="-7.2"/><line x1="-39.8" y1="1.3" x2="-34.4" y2="-7.2"/></g><g transform="translate(630.74,360.55) scale(1.1,1) rotate(-45)"><text x="-20.75 -15.55 -10.35 -5.15">2021</text><text x="-35.1 -29.9">03</text><text x="-49.45 -44.25">19</text><line x1="-25.45" y1="1.3" x2="-20.05" y2="-7.2"/><line x1="-39.8" y1="1.3" x2="-34.4" y2="-7.2"/></g><g transform="translate(644.49,360.55) scale(1.1,1) rotate(-45)"><text x="-20.75 -15.55 -10.35 -5.15">2021</text><text x="-35.1 -29.9">03</text><text x="-49.45 -44.25">26</text><line x1="-25.45" y1="1.3" x2="-20.05" y2="-7.2"/><line x1="-39.8" y1="1.3" x2="-34.4" y2="-7.2"/></g><g transform="translate(658.25,360.55) scale(1.1,1) rotate(-45)"><text x="-20.75 -15.55 -10.35 -5.15">2021</text><text x="-35.1 -29.9">04</text><text x="-49.45 -44.25">02</text><line x1="-25.45" y1="1.3" x2="-20.05" y2="-7.2"/><line x1="-39.8" y1="1.3" x2="-34.4" y2="-7.2"/></g><g transform="translate(672,360.55) scale(1.1,1) rotate(-45)"><text x="-20.75 -15.55 -10.35 -5.15">2021</text><text x="-35.1 -29.9">04</text><text x="-49.45 -44.25">09</text><line x1="-25.45" y1="1.3" x2="-20.05" y2="-7.2"/><line x1="-39.8" y1="1.3" x2="-34.4" y2="-7.2"/></g><g transform="translate(685.76,360.55) scale(1.1,1) rotate(-45)"><text x="-20.75 -15.55 -10.35 -5.15">2021</text><text x="-35.1 -29.9">04</text><text x="-49.45 -44.25">16</text><line x1="-25.45" y1="1.3" x2="-20.05" y2="-7.2"/><line x1="-39.8" y1="1.3" x2="-34.4" y2="-7.2"/></g><g transform="translate(699.52,360.55) scale(1.1,1) rotate(-45)"><text x="-20.75 -15.55 -10.35 -5.15">2021</text><text x="-35.1 -29.9">04</text><text x="-49.45 -44.25">23</text><line x1="-25.45" y1="1.3" x2="-20.05" y2="-7.2"/><line x1="-39.8" y1="1.3" x2="-34.4" y2="-7.2"/></g><g transform="translate(713.27,360.55) scale(1.1,1) rotate(-45)"><text x="-20.75 -15.55 -10.35 -5.15">2021</text><text x="-35.1 -29.9">04</text><text x="-49.45 -44.25">30</text><line x1="-25.45" y1="1.3" x2="-20.05" y2="-7.2"/><line x1="-39.8" y1="1.3" x2="-34.4" y2="-7.2"/></g><g transform="translate(727.03,360.55) scale(1.1,1) rotate(-45)"><text x="-20.75 -15.55 -10.35 -5.15">2021</text><text x="-35.1 -29.9">05</text><text x="-49.45 -44.25">07</text><line x1="-25.45" y1="1.3" x2="-20.05" y2="-7.2"/><line x1="-39.8" y1="1.3" x2="-34.4" y2="-7.2"/></g><g transform="translate(740.78,360.55) scale(1.1,1) rotate(-45)"><text x="-20.75 -15.55 -10.35 -5.15">2021</text><text x="-35.1 -29.9">05</text><text x="-49.45 -44.25">14</text><line x1="-25.45" y1="1.3" x2="-20.05" y2="-7.2"/><line x1="-39.8" y1="1.3" x2="-34.4" y2="-7.2"/></g><g transform="translate(754.54,360.55) scale(1.1,1) rotate(-45)"><text x="-20.75 -15.55 -10.35 -5.15">2021</text><text x="-35.1 -29.9">05</text><text x="-49.45 -44.25">21</text><line x1="-25.45" y1="1.3" x2="-20.05" y2="-7.2"/><line x1="-39.8" y1="1.3" x2="-34.4" y2="-7.2"/></g><g transform="translate(768.29,360.55) scale(1.1,1) rotate(-45)"><text x="-20.75 -15.55 -10.35 -5.15">2021</text><text x="-35.1 -29.9">05</text><text x="-49.45 -44.25">28</text><line x1="-25.45" y1="1.3" x2="-20.05" y2="-7.2"/><line x1="-39.8" y1="1.3" x2="-34.4" y2="-7.2"/></g><g transform="translate(782.05,360.55) scale(1.1,1) rotate(-45)"><text x="-20.75 -15.55 -10.35 -5.15">2021</text><text x="-35.1 -29.9">06</text><text x="-49.45 -44.25">04</text><line x1="-25.45" y1="1.3" x2="-20.05" y2="-7.2"/><line x1="-39.8" y1="1.3" x2="-34.4" y2="-7.2"/></g></g>
<g class="t" filter="url(#tsh)"><text transform="scale(0.94,1)" x="207.02" y="25.0" textLength="75.11" lengthAdjust="spacing">Shanghai</text><text transform="scale(0.94,1)" x="287.98" y="25.0" textLength="112.55" lengthAdjust="spacing">Containerized</text><text transform="scale(0.94,1)" x="409.15" y="25.0" textLength="57.87" lengthAdjust="spacing">Freight</text><text transform="scale(0.94,1)" x="473.72" y="25.0" textLength="44.57" lengthAdjust="spacing">Index</text><text transform="scale(0.94,1)" x="530.74" y="25.0" textLength="44.36" lengthAdjust="spacing">(SCFI)</text><text transform="scale(0.94,1)" x="584.47" y="25.0" textLength="62.13" lengthAdjust="spacing">($/TEU)</text></g>
</svg>
</body></html>
